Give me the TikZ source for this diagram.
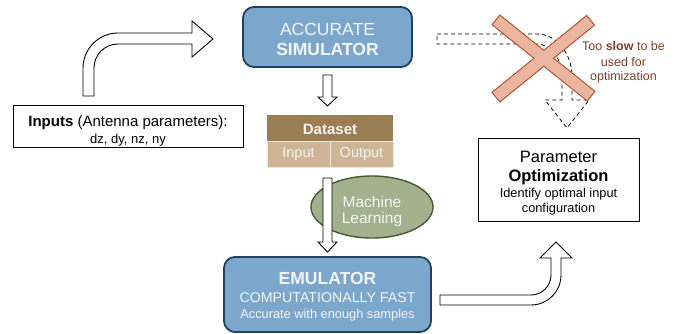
\documentclass[tikz,border=0pt]{standalone}
\usepackage{fontspec}
\setmainfont{Liberation Sans}
\usetikzlibrary{shapes.geometric,calc}
\definecolor{simfill}{HTML}{7BA7CC}
\definecolor{simdraw}{HTML}{22415F}
\definecolor{dshead}{HTML}{9B7E54}
\definecolor{dscell}{HTML}{CDB494}
\definecolor{dsline}{HTML}{EFE6D8}
\definecolor{mlfill}{HTML}{A3B18F}
\definecolor{mldraw}{HTML}{4A5634}
\definecolor{xfillc}{HTML}{ECB59F}
\definecolor{xdrawc}{HTML}{B35D3A}
\definecolor{slowtext}{HTML}{7E3F2A}
\definecolor{lighttext}{HTML}{F4F4F4}
\tikzset{
  bluebox/.style={draw=simdraw, fill=simfill, line width=1.8pt, rounded corners=11pt, inner sep=0pt},
  plainbox/.style={draw=black, fill=white, line width=1pt, inner sep=0pt},
  dscellbox/.style={fill=dscell, draw=dsline, line width=1pt, inner sep=0pt},
  txt/.style={anchor=base, inner sep=0pt},
  ltxt/.style={txt, text=lighttext},
  blockarrow/.style={draw=black, fill=white, line width=0.9pt, line join=miter},
  dasharrow/.style={draw=black, line width=0.8pt, dash pattern=on 4pt off 3pt},
  xborder/.style={draw=xdrawc, line width=13.5pt, line cap=butt},
  xinner/.style={draw=xfillc, line width=11pt, line cap=butt, shorten <=1.3pt, shorten >=1.3pt},
}
\newcommand{\fs}[1]{\fontsize{#1pt}{1.2\dimexpr#1pt\relax}\selectfont}
\begin{document}
\begin{tikzpicture}[x=1pt,y=-1pt]
\useasboundingbox (0,0) rectangle (678,333);

% boxes
\node[bluebox, minimum width=169pt, minimum height=60pt] (sim) at (327.5,37) {};
\node[ltxt] (simL1) at (327.5,35) {\fs{17.5}ACCURATE};
\node[ltxt] (simL2) at (327.5,55.5) {\fs{17.5}\textbf{SIMULATOR}};

\node[plainbox, minimum width=230pt, minimum height=42pt] (inp) at (128,126) {};
\node[txt] (inpL1) at (128,126) {\fs{15}\textbf{Inputs} (Antenna parameters):};
\node[txt] (inpL2) at (128,143.3) {\fs{13}dz, dy, nz, ny};

\node[bluebox, minimum width=207pt, minimum height=75pt] (emu) at (327.5,294.5) {};
\node[ltxt] (emuL1) at (327.5,284.7) {\fs{17.5}\textbf{EMULATOR}};
\node[ltxt] (emuL2) at (327.5,302) {\fs{14.2}COMPUTATIONALLY FAST};
\node[ltxt] (emuL3) at (327.5,318) {\fs{12.8}Accurate with enough samples};

\node[plainbox, minimum width=161pt, minimum height=83pt] (opt) at (558.5,179.5) {};
\node[txt] (optL1) at (558.5,162.7) {\fs{16.5}Parameter};
\node[txt] (optL2) at (558.5,181.7) {\fs{16.5}\textbf{Optimization}};
\node[txt] (optL3) at (558.5,197) {\fs{12.8}Identify optimal input};
\node[txt] (optL4) at (558.5,212.7) {\fs{12.8}configuration};

% dataset
\node[fill=dshead, minimum width=126pt, minimum height=26pt, inner sep=0pt] (dsh) at (330,128) {};
\node[ltxt] (dshL) at (330,134.3) {\fs{15}\textbf{Dataset}};
\node[dscellbox, minimum width=63pt, minimum height=26pt] (dsin) at (298.5,154) {};
\node[dscellbox, minimum width=63pt, minimum height=26pt] (dsout) at (361.5,154) {};
\node[ltxt] (dsinL) at (298.5,157.3) {\fs{14.5}Input};
\node[ltxt] (dsoutL) at (361.5,157.3) {\fs{14.5}Output};

% machine learning ellipse
\node[ellipse, draw=mldraw, fill=mlfill, line width=1.4pt, minimum width=122pt, minimum height=62pt, inner sep=0pt] (ml) at (372,207) {};
\node[ltxt] (mlL1) at (372,207.7) {\fs{15.5}Machine};
\node[ltxt] (mlL2) at (372,223) {\fs{15.5}Learning};

% inputs -> simulator
\coordinate (a1s) at (83,96);
\draw[blockarrow] (a1s) -- (83,68) .. controls (83,48.7) and (98.7,33) .. (118,33)
  -- (192,33) -- (192,21) -- (213,39) -- (192,57) -- (192,44) -- (118,44)
  .. controls (104.7,44) and (94,54.7) .. (94,68) -- (94,96) -- cycle;

% simulator -> dataset
\draw[blockarrow] (323,75) -- (332,75) -- (332,97) -- (337,97) -- (327.5,106) -- (318,97) -- (323,97) -- cycle;

% dataset -> emulator
\draw[blockarrow] (323,178) -- (332,178) -- (332,242) -- (337,242) -- (327.5,252) -- (318,242) -- (323,242) -- cycle;

% emulator -> optimization
\draw[blockarrow] (440,295) -- (531,295) .. controls (542,295) and (551,286) .. (551,275)
  -- (551,258) -- (540,258) -- (556,242) -- (572,258) -- (561,258) -- (561,275)
  .. controls (561,291.6) and (547.6,305) .. (531,305) -- (440,305) -- cycle;

% simulator -> optimization (too slow, dashed)
\draw[dasharrow] (437,34) -- (537,34) .. controls (556.3,34) and (572,53.3) .. (572,77)
  -- (572,100) -- (589,100) -- (567,128) -- (545,100) -- (562,100) -- (562,77)
  .. controls (562,59) and (550.8,44) .. (537,44) -- (437,44) -- cycle;

% cross
\coordinate (xa1) at (495.5,19.5);
\coordinate (xa2) at (591.5,96.5);
\coordinate (xb1) at (591,20);
\coordinate (xb2) at (495.5,97.5);
\draw[xborder] (xa1) -- (xa2) (xb1) -- (xb2);
\draw[xinner] (xa1) -- (xa2);
\draw[xinner] (xb1) -- (xb2);

\node[txt, text=slowtext] (slowL1) at (623.5,50.7) {\fs{12.5}Too \textbf{slow} to be};
\node[txt, text=slowtext] (slowL2) at (623.5,66) {\fs{12.5}used for};
\node[txt, text=slowtext] (slowL3) at (623.5,80.5) {\fs{12.5}optimization};
\end{tikzpicture}
\end{document}
